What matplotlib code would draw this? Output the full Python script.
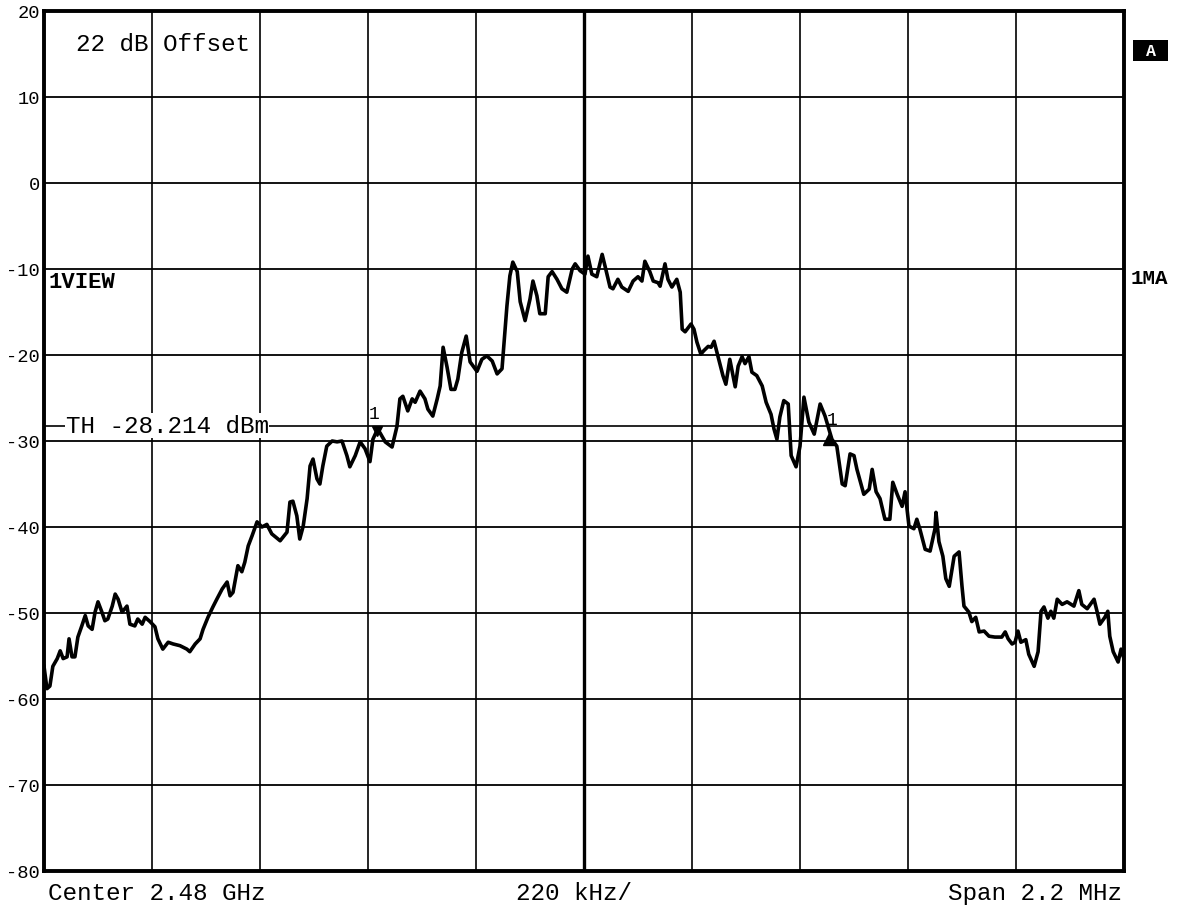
import numpy as np
import matplotlib
matplotlib.use("Agg")
import matplotlib.pyplot as plt
from matplotlib.patches import Rectangle

# --- data (offset from centre in kHz, level in dBm) ---
freq_khz = [
    -1100, -1094, -1088, -1082, -1073, -1067, -1061, -1053, -1049, -1043, -1037, -1031,
    -1023, -1016, -1010, -1002, -996, -990, -982, -976, -970, -961, -955, -949,
    -941, -931, -925, -915, -909, -900, -894, -884, -874, -868, -858, -847,
    -837, -823, -809, -803, -792, -782, -776, -766, -756, -748, -737, -727,
    -721, -715, -705, -697, -691, -684, -676, -666, -656, -646, -636, -619,
    -605, -599, -593, -585, -579, -572, -564, -558, -552, -544, -538, -532,
    -524, -513, -503, -493, -483, -477, -466, -456, -446, -436, -430, -422,
    -416, -405, -391, -381, -375, -369, -359, -350, -344, -334, -324, -318,
    -308, -299, -293, -287, -279, -271, -263, -257, -249, -240, -232, -218,
    -208, -198, -187, -177, -167, -157, -151, -145, -136, -130, -120, -110,
    -104, -96, -90, -79, -73, -65, -55, -45, -35, -24, -18, -8,
    2, 8, 16, 26, 37, 43, 53, 59, 69, 77, 90, 100,
    110, 118, 124, 134, 141, 151, 155, 165, 171, 179, 189, 196,
    200, 206, 218, 224, 230, 238, 244, 253, 259, 265, 273, 283,
    289, 297, 308, 314, 322, 328, 336, 342, 352, 363, 371, 381,
    387, 393, 399, 407, 416, 422, 432, 440, 448, 458, 469, 481,
    491, 505, 515, 526, 532, 542, 550, 556, 570, 581, 587, 595,
    603, 613, 623, 629, 638, 648, 654, 662, 672, 678, 684, 695,
    705, 715, 717, 723, 731, 737, 744, 754, 764, 770, 774, 784,
    790, 798, 805, 815, 825, 837, 851, 858, 864, 872, 878, 884,
    890, 900, 906, 917, 925, 931, 937, 945, 951, 957, 964, 974,
    984, 998, 1008, 1014, 1025, 1039, 1045, 1051, 1061, 1067, 1071, 1078,
    1088, 1094, 1100,
]
level_dbm = [
    -56.2, -58.8, -58.5, -56.2, -55.3, -54.4, -55.3, -55.1, -53.0, -55.1, -55.1, -52.8,
    -51.5, -50.3, -51.5, -51.9, -49.9, -48.7, -49.9, -50.9, -50.7, -49.2, -47.8, -48.4,
    -49.9, -49.2, -51.3, -51.5, -50.7, -51.3, -50.5, -51.0, -51.6, -53.0, -54.2, -53.4,
    -53.6, -53.8, -54.2, -54.5, -53.6, -53.0, -51.9, -50.5, -49.3, -48.4, -47.2, -46.4,
    -48.0, -47.6, -44.5, -45.2, -44.1, -42.2, -41.0, -39.4, -40.0, -39.7, -40.8, -41.6,
    -40.6, -37.1, -37.0, -38.7, -41.4, -39.9, -36.7, -32.9, -32.1, -34.4, -35.0, -32.9,
    -30.6, -30.0, -30.1, -30.0, -31.7, -33.0, -31.7, -30.1, -30.9, -32.4, -29.8, -28.8,
    -29.0, -30.1, -30.7, -28.3, -25.1, -24.8, -26.5, -25.1, -25.5, -24.2, -25.1, -26.3,
    -27.1, -25.1, -23.6, -19.1, -21.4, -24.0, -24.0, -22.8, -19.7, -17.8, -20.8, -21.9,
    -20.5, -20.1, -20.7, -22.2, -21.6, -14.3, -10.8, -9.2, -10.3, -13.8, -16.0, -13.5,
    -11.4, -13.1, -15.2, -15.2, -10.9, -10.3, -11.2, -12.3, -12.7, -10.0, -9.4, -10.2,
    -10.6, -8.5, -10.6, -10.9, -8.3, -9.7, -12.1, -12.3, -11.2, -12.1, -12.6, -11.4,
    -10.9, -11.4, -9.1, -10.3, -11.4, -11.6, -12.0, -9.4, -11.2, -12.1, -11.2, -12.7,
    -17.0, -17.3, -16.4, -17.0, -18.5, -19.9, -19.5, -19.0, -19.1, -18.4, -20.2, -22.4,
    -23.4, -20.5, -23.7, -21.3, -20.2, -21.0, -20.2, -22.0, -22.4, -23.6, -25.5, -26.9,
    -28.6, -29.8, -27.2, -25.3, -25.7, -31.7, -33.0, -30.6, -24.9, -27.8, -29.2, -25.7,
    -27.1, -29.8, -30.6, -35.0, -35.2, -31.5, -31.7, -33.3, -36.2, -35.6, -33.3, -35.9,
    -36.7, -39.1, -39.1, -34.8, -36.2, -37.6, -35.9, -39.9, -40.2, -39.1, -40.2, -42.6,
    -42.8, -40.2, -38.3, -41.7, -43.4, -46.0, -46.9, -43.4, -42.9, -46.9, -49.2, -49.9,
    -51.0, -50.5, -52.2, -52.1, -52.7, -52.8, -52.8, -52.2, -53.0, -53.6, -53.4, -52.1,
    -53.4, -53.1, -54.8, -56.2, -54.5, -49.8, -49.3, -50.6, -49.8, -50.6, -48.4, -49.0,
    -48.7, -49.2, -47.4, -49.0, -49.5, -48.4, -49.8, -51.3, -50.5, -49.8, -52.7, -54.5,
    -55.7, -54.2, -55.3,
]

# markers (kHz, dBm) and threshold
marker_khz = [-422, 499]
marker_dbm = [-28.8, -29.8]
threshold = -28.214

span_khz = 2200
div_khz = 220
y_ticks = [20, 10, 0, -10, -20, -30, -40, -50, -60, -70, -80]

mono = "Liberation Mono"

fig = plt.figure(figsize=(11.78, 9.12), dpi=100)
ax = fig.add_axes([44 / 1178, 1 - 872 / 912, 1080 / 1178, 860 / 912])

# graticule
x_grid = np.arange(-span_khz / 2, span_khz / 2 + 1, div_khz)
for xg in x_grid:
    lw = 2.4 if xg == 0 else 1.2
    ax.axvline(xg, color="black", lw=lw, zorder=1)
for yg in y_ticks:
    ax.axhline(yg, color="black", lw=1.3, zorder=1)

# threshold line
ax.axhline(threshold, color="black", lw=1.2, zorder=1)
ax.text(-1100 + 44, threshold, "TH -28.214 dBm", fontsize=17.5, family=mono,
        va="center", ha="left", zorder=2,
        bbox=dict(facecolor="white", edgecolor="none", pad=0.5))

# trace
ax.plot(freq_khz, level_dbm, color="black", lw=2.6, solid_joinstyle="round", zorder=3)

# markers
ax.plot(marker_khz[0], marker_dbm[0], marker="v", color="black", ms=7, zorder=4)
ax.plot(marker_khz[1], marker_dbm[1], marker="^", color="black", ms=9, zorder=4)
ax.text(marker_khz[0] - 6, marker_dbm[0] + 1.0, "1", fontsize=13, family=mono,
        ha="center", va="bottom", zorder=4)
ax.text(marker_khz[1] + 6, marker_dbm[1] + 1.3, "1", fontsize=13, family=mono,
        ha="center", va="bottom", zorder=4)

ax.set_xlim(-span_khz / 2, span_khz / 2)
ax.set_ylim(-80, 20)
ax.set_xticks([])
ax.set_yticks(y_ticks)
ax.set_yticklabels([str(v) for v in y_ticks], family=mono, fontsize=13.5)
ax.tick_params(axis="y", length=0, pad=3)
for s in ax.spines.values():
    s.set_linewidth(2.8)

# annotations inside the screen
ax.text(0.03, 0.975, "22 dB Offset", transform=ax.transAxes, fontsize=17.5,
        family=mono, ha="left", va="top")
ax.text(0.004, 0.685, "1VIEW", transform=ax.transAxes, fontsize=16,
        family=mono, weight="bold", ha="left", va="center")

# side labels: trace "A" badge (black box, white letter)
fig.patches.append(Rectangle((1133 / 1178, 1 - 62 / 912), 35 / 1178, 21 / 912,
                             transform=fig.transFigure, facecolor="black",
                             edgecolor="none"))
fig.text(1150.5 / 1178, 1 - 51.5 / 912, "A", fontsize=12, family=mono,
         weight="bold", color="white", ha="center", va="center")
fig.text(1131 / 1178, 1 - 279 / 912, "1MA", fontsize=15, family=mono,
         weight="bold", ha="left", va="center")

# bottom labels
fig.text(48 / 1178, 1 - 894 / 912, "Center 2.48 GHz", fontsize=17.5, family=mono,
         ha="left", va="center")
fig.text(574 / 1178, 1 - 894 / 912, "220 kHz/", fontsize=17.5, family=mono,
         ha="center", va="center")
fig.text(1122 / 1178, 1 - 894 / 912, "Span 2.2 MHz", fontsize=17.5, family=mono,
         ha="right", va="center")

fig.savefig("out.png", dpi=100, facecolor="white")
